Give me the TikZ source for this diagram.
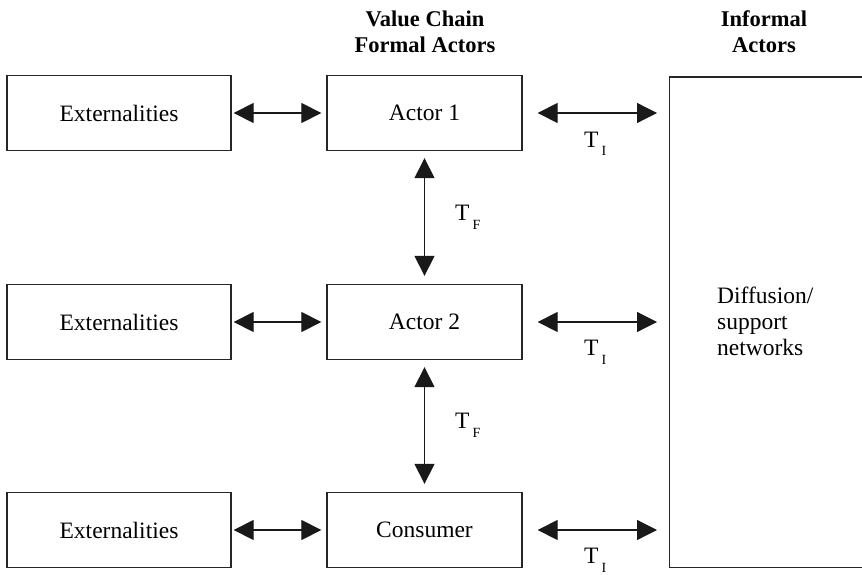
\documentclass[tikz,border=0pt]{standalone}
\usepackage{fontspec}
\setmainfont{Liberation Serif}
\usetikzlibrary{arrows.meta}

% subscripted transaction label, e.g. T with a lowered I
\newcommand{\tlabel}[1]{T\kern3pt\raisebox{-9pt}{\fontsize{14}{14}\selectfont #1}}

\begin{document}
\begin{tikzpicture}[x=1pt,y=-1pt,
  box/.style={draw=black!85,line width=1.3pt,inner sep=0pt,
    font=\fontsize{23.5}{28}\selectfont},
  extbox/.style={box,minimum width=224pt,minimum height=75pt},
  actorbox/.style={box,minimum width=195pt,minimum height=75pt},
  head/.style={align=center,inner sep=0pt,
    font=\fontsize{22.5}{26}\selectfont\bfseries},
  lbl/.style={anchor=base west,inner sep=0pt,font=\fontsize{23.5}{28}\selectfont},
  link/.style={line width=1.2pt,black!90,
    {Triangle[length=20pt,width=20pt]}-{Triangle[length=20pt,width=20pt]}}]
\useasboundingbox (0,0) rectangle (862,575);
\clip (0,0) rectangle (862,575);

% column headings (base anchor sits on the last line)
\node[head,anchor=base] (hvc) at (425,53) {Value Chain\\Formal Actors};
\node[head,anchor=base] (hinf) at (764,53) {Informal\\Actors};

% externalities column
\node[extbox] (e1) at (119,113) {Externalities};
\node[extbox] (e2) at (119,322) {Externalities};
\node[extbox] (e3) at (119,530) {Externalities};

% formal actors of the chain
\node[actorbox] (a1) at (424.5,113) {Actor 1};
\node[actorbox] (a2) at (424.5,322) {Actor 2};
\node[actorbox] (a3) at (424.5,530) {Consumer};

% informal actors box (runs past the right edge)
\node[draw=black!85,line width=1.3pt,inner sep=0pt,anchor=north west,
  minimum width=260pt,minimum height=490.5pt] (inf) at (669,76.5) {};
\node[lbl,align=left,font=\fontsize{23.5}{26}\selectfont] (diff) at (717,355)
  {Diffusion/\\support\\networks};

% links to externalities
\draw[link,shorten <=2pt,shorten >=5pt] (e1.east) -- (a1.west);
\draw[link,shorten <=2pt,shorten >=5pt] (e2.east) -- (a2.west);
\draw[link,shorten <=2pt,shorten >=5pt] (e3.east) -- (a3.west);

% formal transactions along the chain
\draw[link,shorten <=7pt,shorten >=8pt] (a1.south) -- (a2.north);
\draw[link,shorten <=7pt,shorten >=8pt] (a2.south) -- (a3.north);

% informal transactions
\coordinate (i1) at (inf.west |- a1.east);
\coordinate (i2) at (inf.west |- a2.east);
\coordinate (i3) at (inf.west |- a3.east);
\draw[link,shorten <=15pt,shorten >=12pt] (a1.east) -- (i1);
\draw[link,shorten <=15pt,shorten >=12pt] (a2.east) -- (i2);
\draw[link,shorten <=15pt,shorten >=12pt] (a3.east) -- (i3);

% transaction labels
\node[lbl] (tf1) at (455,220) {\tlabel{F}};
\node[lbl] (tf2) at (455,428) {\tlabel{F}};
\node[lbl] (ti1) at (584,147) {\tlabel{I}};
\node[lbl] (ti2) at (584,355) {\tlabel{I}};
\node[lbl] (ti3) at (584,563) {\tlabel{I}};
\end{tikzpicture}
\end{document}
